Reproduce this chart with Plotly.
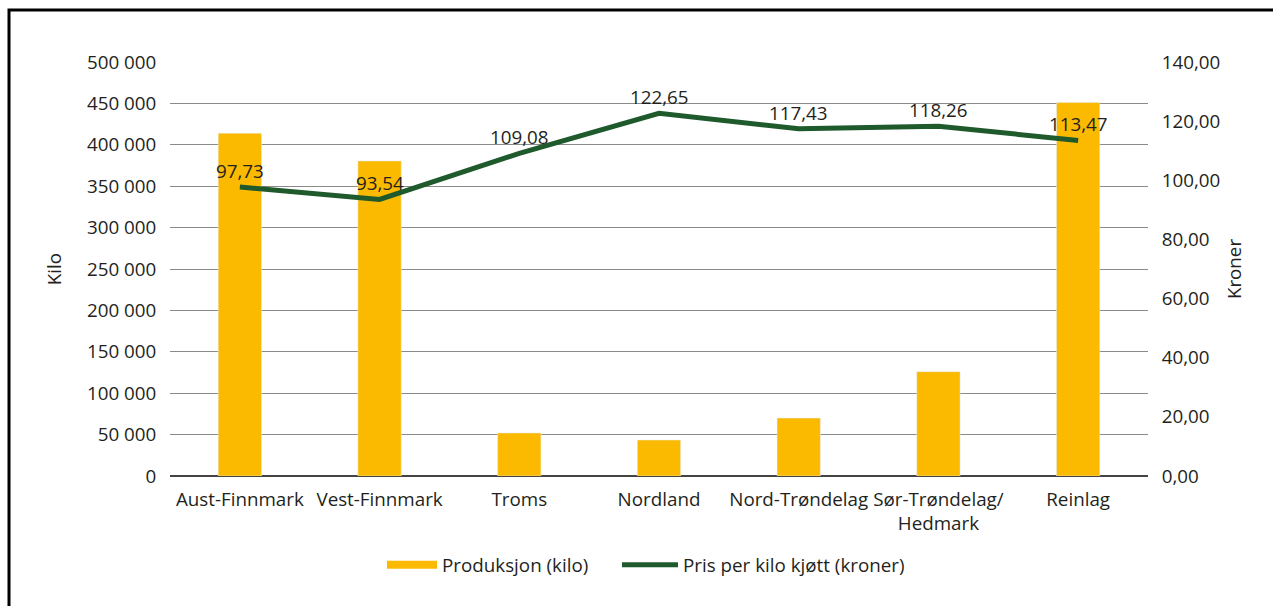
import plotly.graph_objects as go

categories = ["Aust-Finnmark", "Vest-Finnmark", "Troms", "Nordland", "Nord-Trøndelag",
              "Sør-Trøndelag/<br>Hedmark", "Reinlag"]
produksjon_kilo = [414000, 380500, 52000, 43500, 70000, 126000, 451000]
pris_kroner = [97.73, 93.54, 109.08, 122.65, 117.43, 118.26, 113.47]
left_ticks = [0, 50000, 100000, 150000, 200000, 250000, 300000, 350000, 400000, 450000, 500000]
left_labels = ["0", "50 000", "100 000", "150 000", "200 000", "250 000", "300 000",
               "350 000", "400 000", "450 000", "500 000"]
right_ticks = [0, 20, 40, 60, 80, 100, 120, 140]
right_labels = ["0,00", "20,00", "40,00", "60,00", "80,00", "100,00", "120,00", "140,00"]

BAR = "#FBBA00"
LINE = "#1F5A2C"
TXT = "#231F20"
FONT = "Open Sans"
FS = 18.8

fig = go.Figure()
fig.add_trace(go.Bar(x=categories, y=produksjon_kilo, marker_color=BAR,
                     name="Produksjon (kilo)", showlegend=False))
fig.add_trace(go.Scatter(x=[None], y=[None], mode="lines", name="Produksjon (kilo)",
                         line=dict(color=BAR, width=8), legend="legend"))
fig.add_trace(go.Scatter(x=categories, y=pris_kroner, yaxis="y2", mode="lines",
                         name="Pris per kilo kjøtt (kroner)",
                         line=dict(color=LINE, width=5), legend="legend2"))

annotations = [dict(x=c, y=v, xref="x", yref="y2", yshift=16, showarrow=False,
                    text=f"{v:.2f}".replace(".", ","), yanchor="middle",
                    font=dict(size=FS, color=TXT, family=FONT))
               for c, v in zip(categories, pris_kroner)]

L, R, T, B = 170, 125, 62, 130
W, H = 1273, 606
pw, ph = W - L - R, H - T - B


def px_x(px):
    return (px - L) / pw


def px_y(py):
    return (H - B - py) / ph


leg_common = dict(orientation="h", xanchor="left", yanchor="middle",
                  font=dict(size=FS), bgcolor="rgba(0,0,0,0)")

fig.update_layout(
    width=W, height=H,
    margin=dict(l=L, r=R, t=T, b=B),
    paper_bgcolor="white", plot_bgcolor="white",
    font=dict(family=FONT, size=FS, color=TXT),
    bargap=0.69,
    xaxis=dict(showgrid=False, showline=False, ticks="outside", ticklen=6,
               tickcolor="rgba(0,0,0,0)", tickfont=dict(size=FS)),
    yaxis=dict(range=[0, 500000], tickvals=left_ticks, ticktext=left_labels,
               showgrid=True, gridcolor="#8a8a8a", gridwidth=1, zeroline=True,
               zerolinecolor="#444", zerolinewidth=1.5,
               ticks="outside", ticklen=9, tickcolor="rgba(0,0,0,0)",
               title=dict(text="Kilo", standoff=20, font=dict(size=FS)),
               tickfont=dict(size=FS)),
    yaxis2=dict(range=[0, 140], tickvals=right_ticks, ticktext=right_labels,
                overlaying="y", side="right", showgrid=False, zeroline=False,
                ticks="outside", ticklen=9, tickcolor="rgba(0,0,0,0)",
                title=dict(text="Kroner", standoff=8, font=dict(size=FS)),
                tickfont=dict(size=FS)),
    legend=dict(x=px_x(382), y=px_y(565), itemwidth=50, **leg_common),
    legend2=dict(x=px_x(617), y=px_y(565), itemwidth=56, **leg_common),
    annotations=annotations,
    shapes=[dict(type="rect", xref="paper", yref="paper",
                 x0=px_x(9), x1=px_x(W + 20),
                 y0=px_y(H + 20), y1=px_y(10),
                 line=dict(color="black", width=3), fillcolor="rgba(0,0,0,0)",
                 layer="above")],
)

fig.write_html("out.html", config={"displayModeBar": False},
               post_script="document.body.style.margin='0';")
